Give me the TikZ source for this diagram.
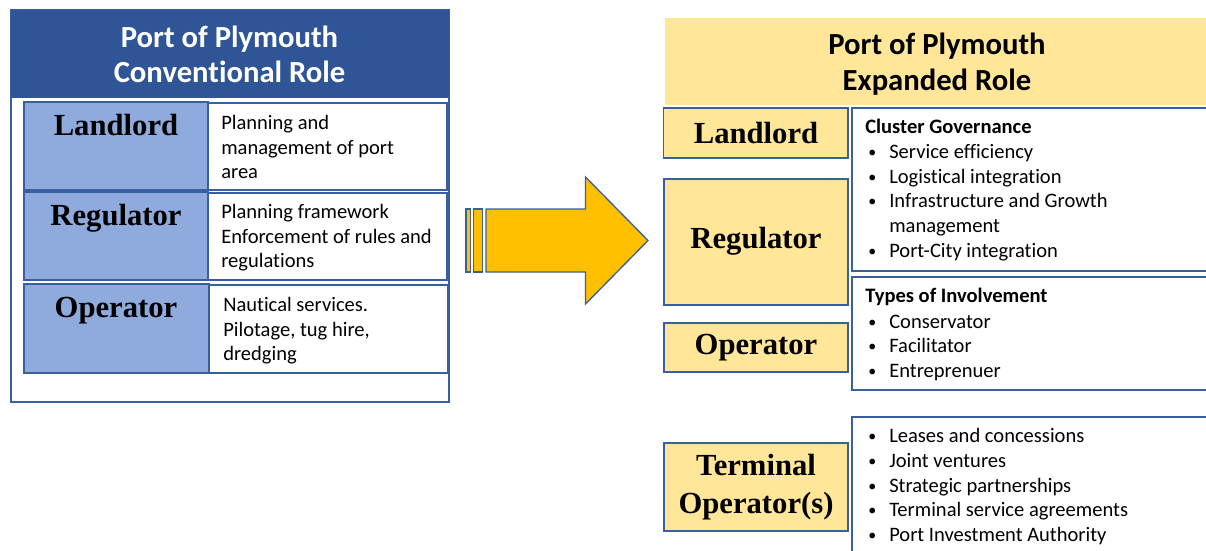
\documentclass[tikz,border=0pt]{standalone}
\usepackage{fontspec}
\setmainfont{Carlito}[Ligatures={NoCommon,NoContextual}]
\newfontfamily\labfont{Liberation Serif}
\definecolor{hblue}{HTML}{2F5597}
\definecolor{bblue}{HTML}{3A5FA0}
\definecolor{lblue}{HTML}{8FAADC}
\definecolor{hyel}{HTML}{FFE699}
\definecolor{arrowy}{HTML}{FFC000}
\begin{document}
\begin{tikzpicture}[x=0.75pt,y=-0.75pt,
  lbl/.style={font=\labfont\bfseries\fontsize{23}{27}\selectfont, inner sep=0, align=center},
  hdrtxt/.style={font=\bfseries\fontsize{23}{27}\selectfont, inner sep=0, anchor=base},
  desc/.style={font=\fontsize{15.4}{18.75}\selectfont, inner sep=0, anchor=base west},
  bul/.style={font=\fontsize{12}{14}\selectfont, inner sep=0, anchor=base west},
  bluebox/.style={draw=bblue, fill=lblue, line width=1.5pt},
  whitebox/.style={draw=bblue, fill=white, line width=1.2pt},
  yelbox/.style={draw=bblue, fill=hyel, line width=1.2pt}]
\useasboundingbox (0,0) rectangle (1206,550);
% ---------------- left panel
\draw[draw=bblue, line width=0.9pt, fill=white] (11,10) rectangle (449,402);
\fill[hblue] (11,10) rectangle (448.5,98);
\node[hdrtxt, text=white] (lh1) at (229.5,47) {Port of Plymouth};
\node[hdrtxt, text=white] (lh2) at (229.5,82) {Conventional Role};
% rows
\draw[whitebox] (208,103) rectangle (447,190);
\draw[bluebox] (24,102) rectangle (208,190);
\draw[whitebox] (208,193) rectangle (447,280);
\draw[bluebox] (24,192) rectangle (208,280);
\draw[whitebox] (209,285) rectangle (448,373);
\draw[bluebox] (24,284) rectangle (209,373);
\node[lbl, anchor=base] (ll1) at (116,135) {Landlord};
\node[lbl, anchor=base] (ll2) at (116,225) {Regulator};
\node[lbl, anchor=base] (ll3) at (116,317) {Operator};
\node[desc] (ld1a) at (221,129) {Planning and};
\node[desc] (ld1b) at (221,154) {management of port};
\node[desc] (ld1c) at (221,178) {area};
\node[desc] (ld2a) at (221,218) {Planning framework};
\node[desc] (ld2b) at (221,243) {Enforcement of rules and};
\node[desc] (ld2c) at (221,267) {regulations};
\node[desc] (ld3a) at (223,311) {Nautical services.};
\node[desc] (ld3b) at (223,336) {Pilotage, tug hire,};
\node[desc] (ld3c) at (223,360) {dredging};
% ---------------- arrow
\draw[draw=bblue, fill=arrowy, line width=1pt] (466,209) rectangle (470.5,272);
\draw[draw=bblue, fill=arrowy, line width=1pt] (473.5,209) rectangle (482.5,272);
\draw[draw=bblue, fill=arrowy, line width=1pt, line join=miter]
  (486,209) -- (585.5,209) -- (585.5,177) -- (648,240.5) -- (585.5,304) -- (585.5,272) -- (486,272) -- cycle;
% ---------------- right panel
\fill[hyel] (665,18) rectangle (1210,105);
\node[hdrtxt] (rh1) at (937,54) {Port of Plymouth};
\node[hdrtxt] (rh2) at (937,90) {Expanded Role};
% label boxes
\draw[yelbox] (663.5,108) rectangle (848,158);
\draw[yelbox] (664,179) rectangle (848,305);
\draw[yelbox] (664,323) rectangle (848,372);
\draw[yelbox] (664,443) rectangle (848,531);
\node[lbl] (rl1) at (756,133) {Landlord};
\node[lbl] (rl2) at (756,241) {Regulator};
\node[lbl] (rl3) at (756,347.5) {Operator};
\node[lbl, font=\labfont\bfseries\fontsize{23}{28.5}\selectfont] (rl4) at (756,487) {Terminal\\Operator(s)};
% text boxes
\draw[whitebox] (852,108) rectangle (1215,271);
\draw[whitebox] (852,277) rectangle (1215,390);
\draw[whitebox] (852,417) rectangle (1215,565);
\node[desc, font=\bfseries\fontsize{15.4}{18.75}\selectfont] (c1h) at (865,133) {Cluster Governance};
\foreach \t/\yy [count=\i] in {Service efficiency/158, Logistical integration/183, Infrastructure and Growth/207, Port-City integration/257}{
  \node[bul] (c1b\i) at (868,\yy-1) {•};
  \node[desc] (c1t\i) at (889,\yy) {\t};
}
\node[desc] (c1m) at (889,232) {management};
\node[desc, font=\bfseries\fontsize{15.4}{18.75}\selectfont] (c2h) at (865,302) {Types of Involvement};
\foreach \t/\yy [count=\i] in {Conservator/328, Facilitator/352, Entreprenuer/377}{
  \node[bul] (c2b\i) at (868,\yy-1) {•};
  \node[desc] (c2t\i) at (889,\yy) {\t};
}
\foreach \t/\yy [count=\i] in {Leases and concessions/442, Joint ventures/467, Strategic partnerships/492, Terminal service agreements/516, Port Investment Authority/541}{
  \node[bul] (c3b\i) at (868,\yy-1) {•};
  \node[desc] (c3t\i) at (889,\yy) {\t};
}
\end{tikzpicture}
\end{document}
